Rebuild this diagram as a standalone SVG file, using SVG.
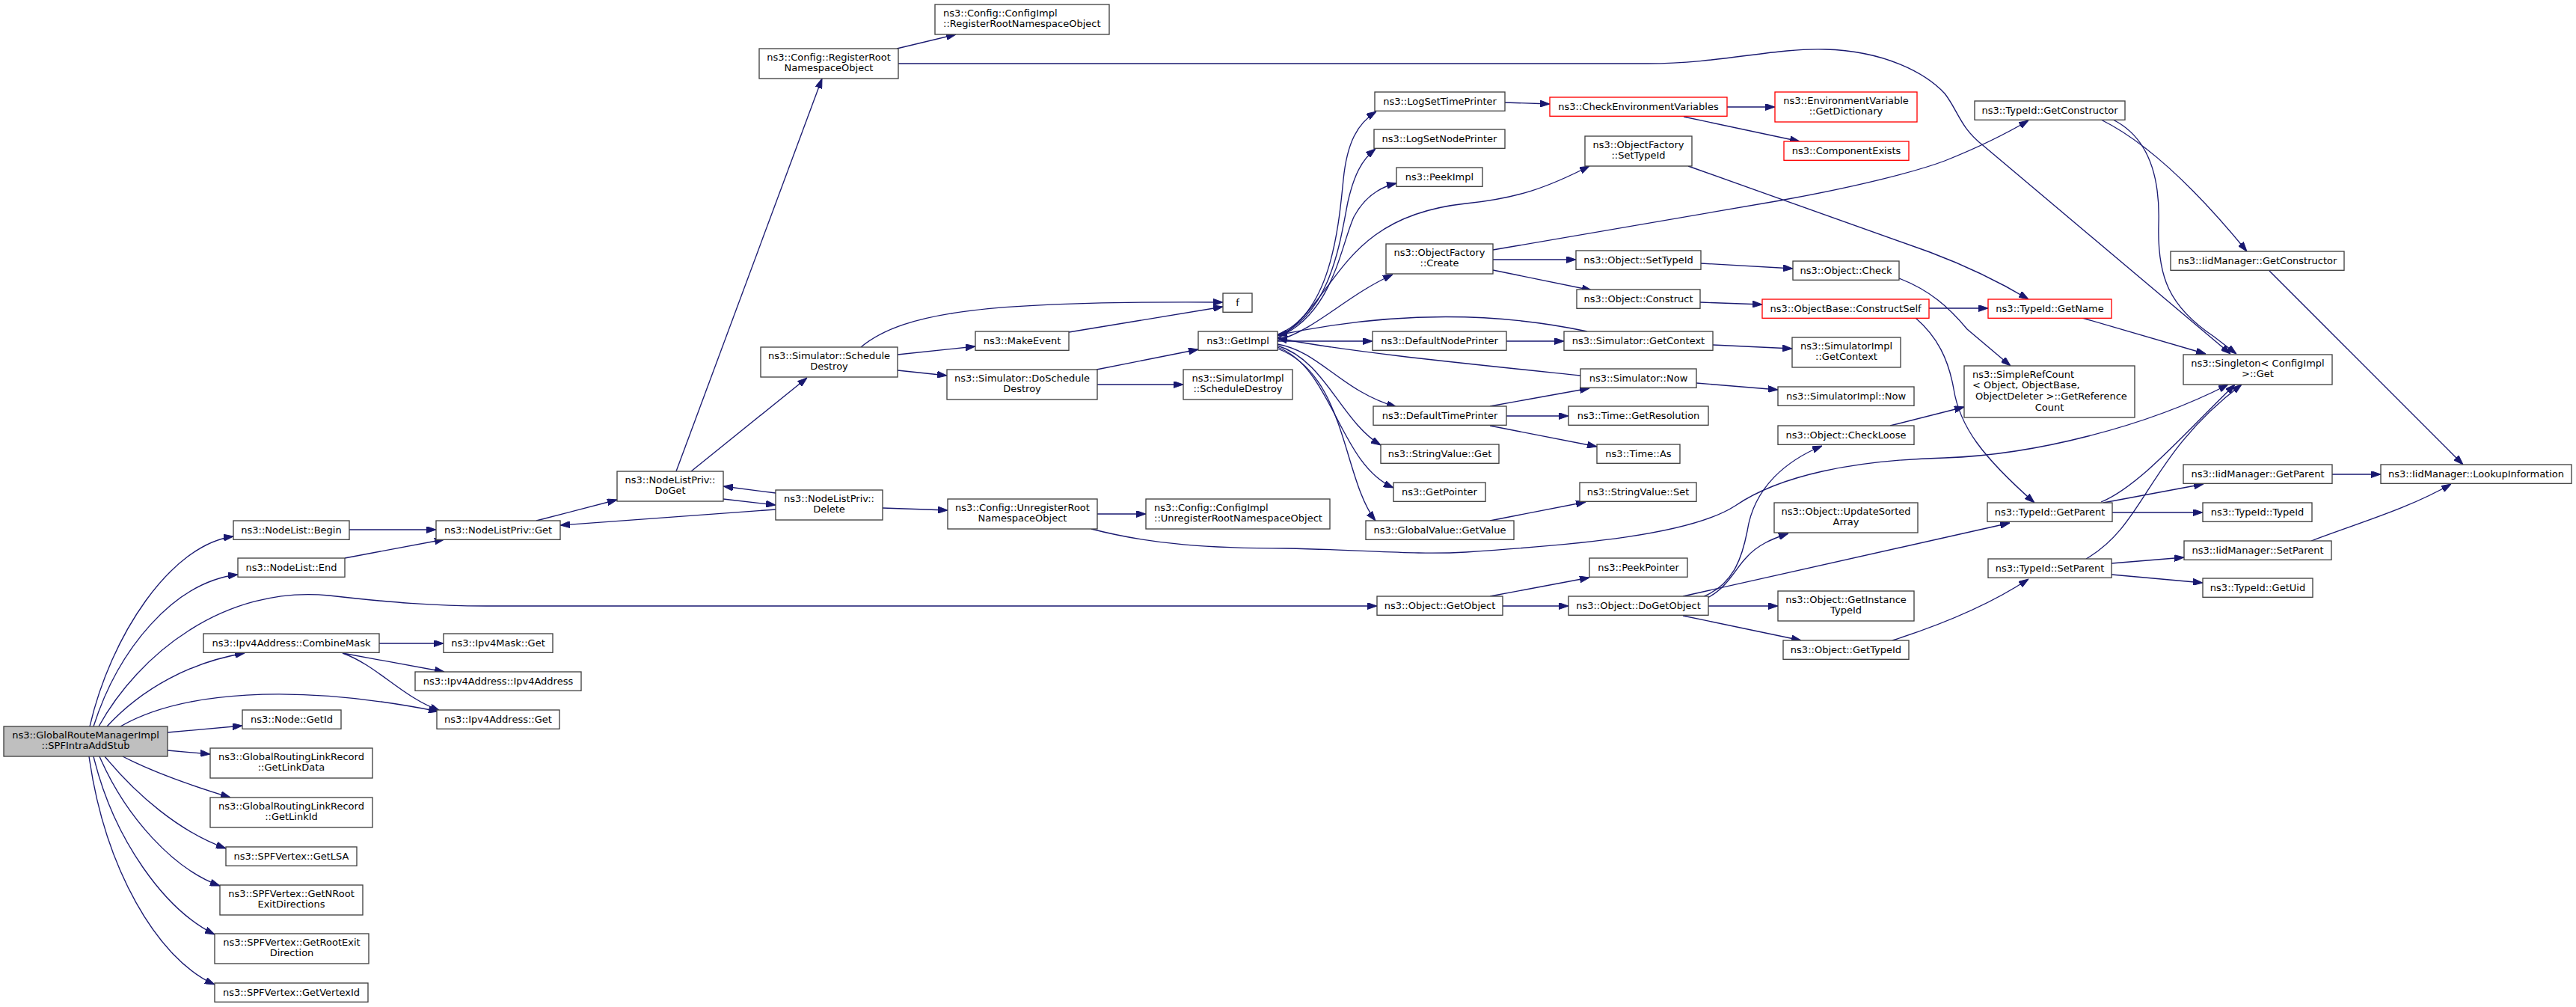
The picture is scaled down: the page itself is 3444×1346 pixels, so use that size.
<svg xmlns="http://www.w3.org/2000/svg" width="3444" height="1346" viewBox="0 0 3444 1346">
<style>
.n rect{fill:#fff;stroke:#404040;stroke-width:1.33}
.r rect{stroke:#ff0000}
.m rect{fill:#bfbfbf}
text{font-family:"DejaVu Sans",sans-serif;font-size:13px;fill:#000}
.c{text-anchor:middle}
.e{fill:none;stroke:#191970;stroke-width:1.33;marker-end:url(#a)}
</style>
<defs>
<marker id="a" markerWidth="13" markerHeight="9" refX="13" refY="4.5" orient="auto" markerUnits="userSpaceOnUse"><path d="M0,0 L13,4.5 L0,9 z" fill="#191970" stroke="#191970" stroke-width="1"/></marker>
</defs>
<rect width="3444" height="1346" fill="#fff"/>
<g id="edges">
<path class="e" d="M120,971 C148,850 228,728 312,717"/>
<path class="e" d="M125,971 C158,868 232,778 318,768"/>
<path class="e" d="M132,971 C185,875 300,782 440,796 C520,805 580,810 650,810 L1841,810"/>
<path class="e" d="M143,971 C190,920 255,885 327,873"/>
<path class="e" d="M161,971 C240,925 390,912 586,951"/>
<path class="e" d="M224,979 L324,970"/>
<path class="e" d="M224,1003 L281,1008"/>
<path class="e" d="M164,1011 C210,1035 262,1052 308,1066"/>
<path class="e" d="M140,1011 C182,1062 240,1112 302,1134"/>
<path class="e" d="M133,1011 C168,1092 232,1162 294,1184"/>
<path class="e" d="M125,1011 C152,1122 220,1216 287,1249"/>
<path class="e" d="M119,1011 C140,1160 210,1282 287,1316"/>
<path class="e" d="M467,708 L583,708"/>
<path class="e" d="M461,746 L594,721"/>
<path class="e" d="M717,696 L825,668"/>
<path class="e" d="M1037,681 L749,702"/>
<path class="e" d="M904,630 L1099,105"/>
<path class="e" d="M924,630 L1079,505"/>
<path class="e" d="M967,667 L1037,675"/>
<path class="e" d="M1037,659 L967,650"/>
<path class="e" d="M1180,679 L1267,682"/>
<path class="e" d="M1467,687 L1532,687"/>
<path class="e" d="M1459,707 C1540,728 1620,733 1720,733 C1830,735 1890,742 1960,738 C2110,728 2260,715 2320,676 C2380,635 2480,615 2600,612 C2720,608 2870,570 2979,514"/>
<path class="e" d="M1199,65 L1278,46"/>
<path class="e" d="M1201,85 L2203,85 C2300,85 2370,64 2440,66 C2520,68 2575,98 2600,125 C2618,148 2620,170 2652,195 L2982,473"/>
<path class="e" d="M1151,464 C1210,415 1330,402 1635,404"/>
<path class="e" d="M1200,474 L1304,463"/>
<path class="e" d="M1200,495 L1266,502"/>
<path class="e" d="M1429,444 L1635,410"/>
<path class="e" d="M1466,494 L1602,467"/>
<path class="e" d="M1467,514 L1582,514"/>
<path class="e" d="M507,860 L593,860"/>
<path class="e" d="M458,873 L594,898"/>
<path class="e" d="M458,873 C505,890 535,930 588,950"/>
<path class="e" d="M1708,447 C1780,420 1790,300 1796,240 C1801,190 1815,165 1840,149"/>
<path class="e" d="M1708,449 C1780,420 1792,320 1802,270 C1810,235 1820,214 1839,199"/>
<path class="e" d="M1708,451 C1782,420 1792,330 1810,290 C1825,262 1845,250 1867,245"/>
<path class="e" d="M1708,453 C1790,400 1790,290 1960,272 C2030,265 2070,250 2125,222"/>
<path class="e" d="M1708,455 C1760,440 1800,395 1862,367"/>
<path class="e" d="M1708,456 L1835,456"/>
<path class="e" d="M1708,460 C1765,470 1792,522 1867,544"/>
<path class="e" d="M1708,462 C1772,482 1792,562 1846,595"/>
<path class="e" d="M1708,464 C1782,492 1790,620 1863,652"/>
<path class="e" d="M1708,466 C1800,500 1795,640 1839,696"/>
<path class="e" d="M2122,443 C1990,415 1850,418 1708,448"/>
<path class="e" d="M2113,502 C1950,485 1800,470 1708,452"/>
<path class="e" d="M2012,137 L2072,139"/>
<path class="e" d="M2309,143 L2373,143"/>
<path class="e" d="M2251,156 L2406,189"/>
<path class="e" d="M2257,222 L2580,337 C2620,352 2670,375 2712,400"/>
<path class="e" d="M1996,334 L2380,268 C2480,250 2560,230 2600,215 C2650,195 2680,180 2712,161"/>
<path class="e" d="M1996,347 L2107,347"/>
<path class="e" d="M1996,361 L2128,388"/>
<path class="e" d="M2274,352 L2397,359"/>
<path class="e" d="M2273,404 L2356,407"/>
<path class="e" d="M2539,372 C2580,388 2605,410 2630,440 L2688,489"/>
<path class="e" d="M2579,412 L2658,412"/>
<path class="e" d="M2561,425 C2590,450 2605,480 2612,520 C2620,570 2650,610 2720,672"/>
<path class="e" d="M2527,569 L2626,544"/>
<path class="e" d="M2278,797 C2320,780 2330,740 2336,710 C2345,650 2390,615 2436,596"/>
<path class="e" d="M2283,799 C2310,785 2320,760 2335,745 C2350,728 2370,720 2391,713"/>
<path class="e" d="M2250,797 L2687,699"/>
<path class="e" d="M2284,810 L2377,810"/>
<path class="e" d="M2250,823 L2408,856"/>
<path class="e" d="M2530,856 C2580,840 2650,815 2712,774"/>
<path class="e" d="M1992,797 L2125,772"/>
<path class="e" d="M2009,810 L2097,810"/>
<path class="e" d="M2014,456 L2091,456"/>
<path class="e" d="M2290,461 L2396,466"/>
<path class="e" d="M1992,543 L2125,519"/>
<path class="e" d="M2014,556 L2097,556"/>
<path class="e" d="M1992,569 L2135,597"/>
<path class="e" d="M2268,512 L2377,521"/>
<path class="e" d="M1992,696 L2120,671"/>
<path class="e" d="M2825,160 C2875,185 2888,240 2886,300 C2884,370 2900,410 2960,450 L2990,473"/>
<path class="e" d="M2809,160 C2880,195 2950,270 3004,336"/>
<path class="e" d="M3034,362 L3293,621"/>
<path class="e" d="M2784,425 L2949,473"/>
<path class="e" d="M2809,671 C2860,650 2920,580 2988,514"/>
<path class="e" d="M2789,747 C2870,700 2870,610 2997,514"/>
<path class="e" d="M2812,672 L2946,647"/>
<path class="e" d="M2824,685 L2945,685"/>
<path class="e" d="M3118,634 L3183,634"/>
<path class="e" d="M2823,753 L2920,745"/>
<path class="e" d="M2823,768 L2945,779"/>
<path class="e" d="M3090,723 C3150,700 3220,680 3277,647"/>
</g>
<g id="n_main" class="n m"><rect x="5" y="971" width="219" height="40"/><text class="c" x="114.5" y="986.6">ns3::GlobalRouteManagerImpl</text><text class="c" x="114.5" y="1001.3">::SPFIntraAddStub</text></g>
<g id="n_nlbegin" class="n"><rect x="312" y="696" width="155" height="25.3"/><text class="c" x="389.5" y="713.3">ns3::NodeList::Begin</text></g>
<g id="n_nlend" class="n"><rect x="318" y="746" width="143" height="25.3"/><text class="c" x="389.5" y="763.3">ns3::NodeList::End</text></g>
<g id="n_combine" class="n"><rect x="272" y="847" width="235" height="25.3"/><text class="c" x="389.5" y="864.3">ns3::Ipv4Address::CombineMask</text></g>
<g id="n_getid" class="n"><rect x="324" y="949" width="132" height="25.3"/><text class="c" x="390" y="966.3">ns3::Node::GetId</text></g>
<g id="n_linkdata" class="n"><rect x="281" y="1000" width="217" height="40"/><text class="c" x="389.5" y="1015.6">ns3::GlobalRoutingLinkRecord</text><text class="c" x="389.5" y="1030.3">::GetLinkData</text></g>
<g id="n_linkid" class="n"><rect x="281" y="1066" width="217" height="40"/><text class="c" x="389.5" y="1081.6">ns3::GlobalRoutingLinkRecord</text><text class="c" x="389.5" y="1096.3">::GetLinkId</text></g>
<g id="n_lsa" class="n"><rect x="302" y="1132" width="175" height="25.3"/><text class="c" x="389.5" y="1149.3">ns3::SPFVertex::GetLSA</text></g>
<g id="n_nroot" class="n"><rect x="294" y="1183" width="191" height="40"/><text class="c" x="389.5" y="1198.6">ns3::SPFVertex::GetNRoot</text><text class="c" x="389.5" y="1213.3">ExitDirections</text></g>
<g id="n_rootexit" class="n"><rect x="287" y="1248" width="206" height="40"/><text class="c" x="390" y="1263.6">ns3::SPFVertex::GetRootExit</text><text class="c" x="390" y="1278.3">Direction</text></g>
<g id="n_vertexid" class="n"><rect x="287" y="1314" width="205" height="25.3"/><text class="c" x="389.5" y="1331.3">ns3::SPFVertex::GetVertexId</text></g>
<g id="n_nlpget" class="n"><rect x="583" y="696" width="166" height="25.3"/><text class="c" x="666" y="713.3">ns3::NodeListPriv::Get</text></g>
<g id="n_maskget" class="n"><rect x="593" y="847" width="146" height="25.3"/><text class="c" x="666" y="864.3">ns3::Ipv4Mask::Get</text></g>
<g id="n_ipv4ctor" class="n"><rect x="555" y="898" width="222" height="25.3"/><text class="c" x="666" y="915.3">ns3::Ipv4Address::Ipv4Address</text></g>
<g id="n_ipv4get" class="n"><rect x="584" y="949" width="164" height="25.3"/><text class="c" x="666" y="966.3">ns3::Ipv4Address::Get</text></g>
<g id="n_doget" class="n"><rect x="825" y="630" width="142" height="40"/><text class="c" x="896" y="645.6">ns3::NodeListPriv::</text><text class="c" x="896" y="660.3">DoGet</text></g>
<g id="n_regroot" class="n"><rect x="1015" y="65" width="186" height="40"/><text class="c" x="1108" y="80.6">ns3::Config::RegisterRoot</text><text class="c" x="1108" y="95.3">NamespaceObject</text></g>
<g id="n_scheddestroy" class="n"><rect x="1017" y="464" width="183" height="40"/><text class="c" x="1108.5" y="479.6">ns3::Simulator::Schedule</text><text class="c" x="1108.5" y="494.3">Destroy</text></g>
<g id="n_delete" class="n"><rect x="1037" y="655" width="143" height="40"/><text class="c" x="1108.5" y="670.6">ns3::NodeListPriv::</text><text class="c" x="1108.5" y="685.3">Delete</text></g>
<g id="n_cfgimplreg" class="n"><rect x="1250" y="6" width="233" height="40"/><text x="1261" y="21.6">ns3::Config::ConfigImpl</text><text x="1261" y="36.3">::RegisterRootNamespaceObject</text></g>
<g id="n_makeevent" class="n"><rect x="1304" y="443" width="125" height="25.3"/><text class="c" x="1366.5" y="460.3">ns3::MakeEvent</text></g>
<g id="n_dosched" class="n"><rect x="1266" y="494" width="201" height="40"/><text class="c" x="1366.5" y="509.6">ns3::Simulator::DoSchedule</text><text class="c" x="1366.5" y="524.3">Destroy</text></g>
<g id="n_unreg" class="n"><rect x="1267" y="667" width="200" height="40"/><text class="c" x="1367" y="682.6">ns3::Config::UnregisterRoot</text><text class="c" x="1367" y="697.3">NamespaceObject</text></g>
<g id="n_f" class="n"><rect x="1635" y="392" width="39" height="25.3"/><text class="c" x="1654.5" y="409.3">f</text></g>
<g id="n_getimpl" class="n"><rect x="1602" y="443" width="106" height="25.3"/><text class="c" x="1655" y="460.3">ns3::GetImpl</text></g>
<g id="n_simimplsched" class="n"><rect x="1582" y="494" width="146" height="40"/><text class="c" x="1655" y="509.6">ns3::SimulatorImpl</text><text class="c" x="1655" y="524.3">::ScheduleDestroy</text></g>
<g id="n_cfgimplunreg" class="n"><rect x="1532" y="667" width="246" height="40"/><text x="1543" y="682.6">ns3::Config::ConfigImpl</text><text x="1543" y="697.3">::UnregisterRootNamespaceObject</text></g>
<g id="n_logtime" class="n"><rect x="1838" y="123" width="174" height="25.3"/><text class="c" x="1925" y="140.3">ns3::LogSetTimePrinter</text></g>
<g id="n_lognode" class="n"><rect x="1837" y="173" width="175" height="25.3"/><text class="c" x="1924.5" y="190.3">ns3::LogSetNodePrinter</text></g>
<g id="n_peekimpl" class="n"><rect x="1867" y="224" width="115" height="25.3"/><text class="c" x="1924.5" y="241.3">ns3::PeekImpl</text></g>
<g id="n_ofcreate" class="n"><rect x="1853" y="326" width="143" height="40"/><text class="c" x="1924.5" y="341.6">ns3::ObjectFactory</text><text class="c" x="1924.5" y="356.3">::Create</text></g>
<g id="n_defnode" class="n"><rect x="1835" y="443" width="179" height="25.3"/><text class="c" x="1924.5" y="460.3">ns3::DefaultNodePrinter</text></g>
<g id="n_deftime" class="n"><rect x="1836" y="543" width="178" height="25.3"/><text class="c" x="1925" y="560.3">ns3::DefaultTimePrinter</text></g>
<g id="n_svget" class="n"><rect x="1846" y="594" width="158" height="25.3"/><text class="c" x="1925" y="611.3">ns3::StringValue::Get</text></g>
<g id="n_getpointer" class="n"><rect x="1863" y="645" width="123" height="25.3"/><text class="c" x="1924.5" y="662.3">ns3::GetPointer</text></g>
<g id="n_gvgetvalue" class="n"><rect x="1826" y="696" width="198" height="25.3"/><text class="c" x="1925" y="713.3">ns3::GlobalValue::GetValue</text></g>
<g id="n_getobject" class="n"><rect x="1841" y="797" width="168" height="25.3"/><text class="c" x="1925" y="814.3">ns3::Object::GetObject</text></g>
<g id="n_checkenv" class="n r"><rect x="2072" y="130" width="237" height="25.3"/><text class="c" x="2190.5" y="147.3">ns3::CheckEnvironmentVariables</text></g>
<g id="n_ofsettypeid" class="n"><rect x="2119" y="182" width="143" height="40"/><text class="c" x="2190.5" y="197.6">ns3::ObjectFactory</text><text class="c" x="2190.5" y="212.3">::SetTypeId</text></g>
<g id="n_osettypeid" class="n"><rect x="2107" y="335" width="167" height="25.3"/><text class="c" x="2190.5" y="352.3">ns3::Object::SetTypeId</text></g>
<g id="n_oconstruct" class="n"><rect x="2108" y="387" width="165" height="25.3"/><text class="c" x="2190.5" y="404.3">ns3::Object::Construct</text></g>
<g id="n_simgetctx" class="n"><rect x="2091" y="443" width="199" height="25.3"/><text class="c" x="2190.5" y="460.3">ns3::Simulator::GetContext</text></g>
<g id="n_simnow" class="n"><rect x="2113" y="493" width="155" height="25.3"/><text class="c" x="2190.5" y="510.3">ns3::Simulator::Now</text></g>
<g id="n_getres" class="n"><rect x="2097" y="543" width="187" height="25.3"/><text class="c" x="2190.5" y="560.3">ns3::Time::GetResolution</text></g>
<g id="n_timeas" class="n"><rect x="2135" y="594" width="111" height="25.3"/><text class="c" x="2190.5" y="611.3">ns3::Time::As</text></g>
<g id="n_svset" class="n"><rect x="2112" y="645" width="156" height="25.3"/><text class="c" x="2190" y="662.3">ns3::StringValue::Set</text></g>
<g id="n_peekptr" class="n"><rect x="2125" y="746" width="131" height="25.3"/><text class="c" x="2190.5" y="763.3">ns3::PeekPointer</text></g>
<g id="n_dogetobj" class="n"><rect x="2097" y="797" width="187" height="25.3"/><text class="c" x="2190.5" y="814.3">ns3::Object::DoGetObject</text></g>
<g id="n_envdict" class="n r"><rect x="2373" y="123" width="190" height="40"/><text class="c" x="2468" y="138.6">ns3::EnvironmentVariable</text><text class="c" x="2468" y="153.3">::GetDictionary</text></g>
<g id="n_compexists" class="n r"><rect x="2385" y="189" width="167" height="25.3"/><text class="c" x="2468.5" y="206.3">ns3::ComponentExists</text></g>
<g id="n_ocheck" class="n"><rect x="2397" y="349" width="142" height="25.3"/><text class="c" x="2468" y="366.3">ns3::Object::Check</text></g>
<g id="n_constructself" class="n r"><rect x="2356" y="400" width="223" height="25.3"/><text class="c" x="2467.5" y="417.3">ns3::ObjectBase::ConstructSelf</text></g>
<g id="n_simimplctx" class="n"><rect x="2396" y="451" width="145" height="40"/><text class="c" x="2468.5" y="466.6">ns3::SimulatorImpl</text><text class="c" x="2468.5" y="481.3">::GetContext</text></g>
<g id="n_simimplnow" class="n"><rect x="2377" y="517" width="182" height="25.3"/><text class="c" x="2468" y="534.3">ns3::SimulatorImpl::Now</text></g>
<g id="n_checkloose" class="n"><rect x="2377" y="569" width="182" height="25.3"/><text class="c" x="2468" y="586.3">ns3::Object::CheckLoose</text></g>
<g id="n_updsorted" class="n"><rect x="2372" y="672" width="192" height="40"/><text class="c" x="2468" y="687.6">ns3::Object::UpdateSorted</text><text class="c" x="2468" y="702.3">Array</text></g>
<g id="n_getinsttid" class="n"><rect x="2377" y="790" width="182" height="40"/><text class="c" x="2468" y="805.6">ns3::Object::GetInstance</text><text class="c" x="2468" y="820.3">TypeId</text></g>
<g id="n_ogettypeid" class="n"><rect x="2384" y="856" width="168" height="25.3"/><text class="c" x="2468" y="873.3">ns3::Object::GetTypeId</text></g>
<g id="n_tidgetctor" class="n"><rect x="2640" y="135" width="201" height="25.3"/><text class="c" x="2740.5" y="152.3">ns3::TypeId::GetConstructor</text></g>
<g id="n_tidgetname" class="n r"><rect x="2658" y="400" width="165" height="25.3"/><text class="c" x="2740.5" y="417.3">ns3::TypeId::GetName</text></g>
<g id="n_simplerefcount" class="n"><rect x="2626" y="489" width="228" height="69"/><text x="2637" y="504.6">ns3::SimpleRefCount</text><text x="2637" y="519.3">&lt; Object, ObjectBase,</text><text x="2641" y="534">ObjectDeleter &gt;::GetReference</text><text class="c" x="2740" y="548.7">Count</text></g>
<g id="n_tidgetparent" class="n"><rect x="2657" y="672" width="167" height="25.3"/><text class="c" x="2740.5" y="689.3">ns3::TypeId::GetParent</text></g>
<g id="n_tidsetparent" class="n"><rect x="2658" y="747" width="165" height="25.3"/><text class="c" x="2740.5" y="764.3">ns3::TypeId::SetParent</text></g>
<g id="n_iidgetctor" class="n"><rect x="2902" y="336" width="232" height="25.3"/><text class="c" x="3018" y="353.3">ns3::IidManager::GetConstructor</text></g>
<g id="n_singleton" class="n"><rect x="2919" y="474" width="199" height="40"/><text class="c" x="3018.5" y="489.6">ns3::Singleton&lt; ConfigImpl</text><text class="c" x="3018.5" y="504.3">&gt;::Get</text></g>
<g id="n_iidgetparent" class="n"><rect x="2919" y="621" width="199" height="25.3"/><text class="c" x="3018.5" y="638.3">ns3::IidManager::GetParent</text></g>
<g id="n_tidtypeid" class="n"><rect x="2945" y="672" width="146" height="25.3"/><text class="c" x="3018" y="689.3">ns3::TypeId::TypeId</text></g>
<g id="n_iidsetparent" class="n"><rect x="2920" y="723" width="197" height="25.3"/><text class="c" x="3018.5" y="740.3">ns3::IidManager::SetParent</text></g>
<g id="n_tidgetuid" class="n"><rect x="2945" y="773" width="147" height="25.3"/><text class="c" x="3018.5" y="790.3">ns3::TypeId::GetUid</text></g>
<g id="n_lookup" class="n"><rect x="3183" y="621" width="255" height="25.3"/><text class="c" x="3310.5" y="638.3">ns3::IidManager::LookupInformation</text></g>
</svg>
